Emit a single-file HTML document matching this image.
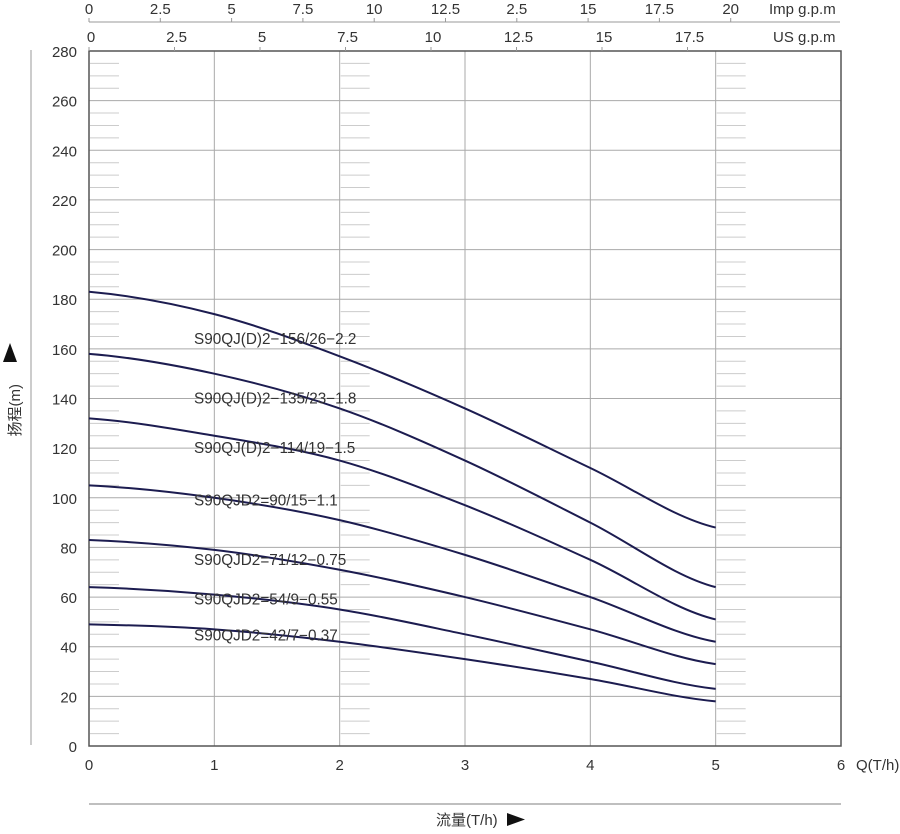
<!DOCTYPE html>
<html><head><meta charset="utf-8"><style>
body{margin:0;background:#fff;}
svg text{font-family:"Liberation Sans","Noto Sans CJK SC",sans-serif;fill:#333;}
</style></head><body>
<svg id="chart" width="900" height="829" viewBox="0 0 900 829" xmlns="http://www.w3.org/2000/svg"></svg>
<script>
const qTicks=[0,1,2,3,4,5,6];
const hTicks=[0,20,40,60,80,100,120,140,160,180,200,220,240,260,280];
const impLabels=["0","2.5","5","7.5","10","12.5","2.5","15","17.5","20"];
const usLabels=["0","2.5","5","7.5","10","12.5","15","17.5"];
const curveQ=[0,1,2,3,4,5];
const seriesNames=["S90QJ(D)2−156/26−2.2","S90QJ(D)2−135/23−1.8","S90QJ(D)2−114/19−1.5","S90QJD2=90/15−1.1","S90QJD2=71/12−0.75","S90QJD2=54/9−0.55","S90QJD2=42/7−0.37"];
const s156=[183,174,157,136,112,88];
const s135=[158,150,136,115,90,64];
const s114=[132,125,115,97,75,51];
const s90=[105,100,91,77,60,42];
const s71=[83,79,71,60,47,33];
const s54=[64,61,55,45,34,23];
const s42=[49,47,42,35,27,18];
const labelH=[164,140,120,99,75,59,44.5];

const svg=document.getElementById('chart');
const NS='http://www.w3.org/2000/svg';
const X0=89,X1=841,Y0=746,Y1=51;
const xs=q=>X0+(X1-X0)*q/6;
const ys=h=>Y0-(Y0-Y1)*h/280;
function mk(tag,attrs,parent){const e=document.createElementNS(NS,tag);for(const k in attrs)e.setAttribute(k,attrs[k]);(parent||svg).appendChild(e);return e;}

[0,2,5].forEach(q=>{
  for(let h=5;h<280;h+=5){ if(h%20===0) continue;
    const l=mk('line',{x1:xs(q)+1,x2:xs(q)+30,y1:ys(h),y2:ys(h),stroke:'#ccc','stroke-width':1});
    
    
  }
});
hTicks.forEach(h=>{
  const l=mk('line',{x1:X0,x2:X1,y1:ys(h),y2:ys(h),stroke:'#aaa','stroke-width':1});
  
  
  const t=mk('text',{x:77,y:ys(h)+6,'text-anchor':'end','font-size':15});
  t.textContent=h;
  
  
});
qTicks.forEach(q=>{
  if(q>0&&q<6){const l=mk('line',{x1:xs(q),x2:xs(q),y1:Y1,y2:Y0,stroke:'#aaa','stroke-width':1});
  
  }
  const t=mk('text',{x:xs(q),y:770,'text-anchor':'middle','font-size':15});
  t.textContent=q;
  
  
});
const fr=mk('rect',{x:X0,y:Y1,width:X1-X0,height:Y0-Y1,fill:'none',stroke:'#555','stroke-width':1.5});


const impStep=71.3, usStep=85.5;
const ia=mk('line',{x1:89,x2:840,y1:22,y2:22,stroke:'#999','stroke-width':1});


impLabels.forEach((s,i)=>{
  const x=89+i*impStep;
  mk('line',{x1:x,x2:x,y1:18,y2:22,stroke:'#999'});
  const t=mk('text',{x:x,y:14,'text-anchor':'middle','font-size':15});
  t.textContent=s;
  
  
});
usLabels.forEach((s,i)=>{
  const x=89+i*usStep;
  mk('line',{x1:x,x2:x,y1:47,y2:51,stroke:'#999'});
  const t=mk('text',{x:x+2,y:42,'text-anchor':'middle','font-size':15});
  t.textContent=s;
  
  
});
let t=mk('text',{x:769,y:14,'font-size':15});t.textContent='Imp g.p.m';


t=mk('text',{x:773,y:42,'font-size':15});t.textContent='US g.p.m';


t=mk('text',{x:856,y:770,'font-size':15});t.textContent='Q(T/h)';


let l=mk('line',{x1:31,x2:31,y1:50,y2:745,stroke:'#999'});


l=mk('line',{x1:89,x2:841,y1:804,y2:804,stroke:'#aaa','stroke-width':1.5});


t=mk('text',{x:436,y:825,'font-size':15});t.textContent='流量(T/h)';


let tri=mk('polygon',{points:'507,813 507,826 525,819.5',fill:'#111'});


t=mk('text',{x:0,y:0,'font-size':15,transform:'translate(20,384) rotate(-90)','text-anchor':'end'});t.textContent='扬程(m)';


tri=mk('polygon',{points:'3,362 17,362 10,343',fill:'#111'});


const allSeries=[s156,s135,s114,s90,s71,s54,s42];
allSeries.forEach((s,k)=>{
  let d='';
  for(let i=0;i<curveQ.length-1;i++){
    const x0=xs(curveQ[i]),x1=xs(curveQ[i+1]);
    const p0=s[Math.max(i-1,0)],p1=s[i],p2=s[i+1],p3=s[Math.min(i+2,s.length-1)];
    const c1=p1+(p2-p0)/6,c2=p2-(p3-p1)/6;
    if(i===0)d+='M'+x0+','+ys(p1);
    d+=' C'+(x0+(x1-x0)/3)+','+ys(c1)+' '+(x0+2*(x1-x0)/3)+','+ys(c2)+' '+x1+','+ys(p2);
  }
  const p=mk('path',{d:d,fill:'none',stroke:'#1c1c50','stroke-width':2});
  
  
  const tx=mk('text',{x:194,y:ys(labelH[k])+5,'font-size':15.3});
  tx.textContent=seriesNames[k];
  
  
});
</script>
</body></html>
